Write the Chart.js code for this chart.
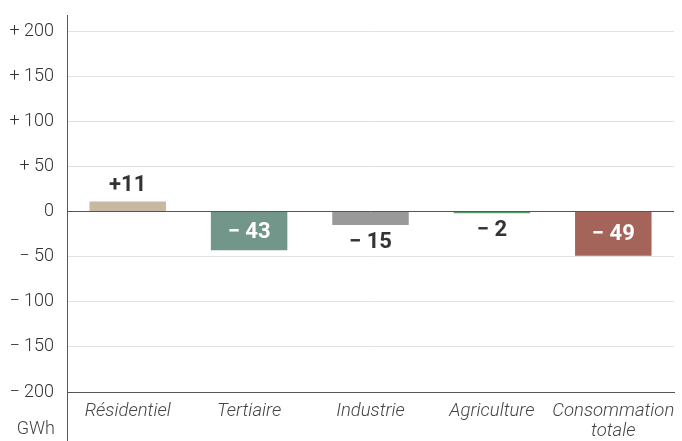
<!DOCTYPE html>
<html>
<head>
<meta charset="utf-8">
<script src="https://cdn.jsdelivr.net/npm/chart.js@4.4.1/dist/chart.umd.min.js"></script>
<style>
  html, body { margin: 0; padding: 0; background: #fff; }
  #wrap { width: 682px; height: 441px; position: relative; }
</style>
</head>
<body>
<div id="wrap"><canvas id="consoChart"></canvas></div>
<script>
// Variation de consommation par secteur (GWh)
const secteurs = ['Résidentiel', 'Tertiaire', 'Industrie', 'Agriculture', ['Consommation', 'totale']];
const variations = [11, -43, -15, -2, -49];
const couleurs = ['#c8b8a2', '#73968a', '#999999', '#5f9c6a', '#a5645a'];
const graduations = [-200, -150, -100, -50, 0, 50, 100, 150, 200];
const unite = 'GWh';

const FONT = "'Roboto', 'Liberation Sans Narrow', sans-serif";

function formatSigne(v) {
    if (v > 0) return '+ ' + v;
    if (v < 0) return '\u2212 ' + Math.abs(v);
    return '0';
}

// Axe vertical prolongé + unité + étiquettes de valeurs
const decorPlugin = {
    id: 'decor',
    afterDraw(chart) {
        const c = chart.ctx;
        const area = chart.chartArea;
        c.save();
        c.strokeStyle = '#555';
        c.lineWidth = 1;
        c.beginPath();
        c.moveTo(area.left + 0.5, 15);
        c.lineTo(area.left + 0.5, chart.height);
        c.stroke();

        c.fillStyle = '#444';
        c.font = '300 18px ' + FONT;
        c.textAlign = 'right';
        c.textBaseline = 'middle';
        c.fillText(unite, 55, 429);

        const meta = chart.getDatasetMeta(0);
        c.font = 'bold 22px ' + FONT;
        c.textAlign = 'center';
        meta.data.forEach((bar, i) => {
            const v = variations[i];
            const txt = v > 0 ? '+' + v : '\u2212 ' + Math.abs(v);
            let y;
            if (v > 0) {
                c.fillStyle = '#333';
                y = bar.y - 16;
            } else if (Math.abs(v) >= 30) {
                c.fillStyle = '#fff';
                y = (bar.y + bar.base) / 2 + 1;
            } else {
                c.fillStyle = '#333';
                y = bar.y + 17;
            }
            c.fillText(txt, bar.x, y);
        });
        c.restore();
    }
};

new Chart(document.getElementById('consoChart'), {
    type: 'bar',
    data: {
        labels: secteurs,
        datasets: [{
            data: variations,
            backgroundColor: couleurs,
            borderWidth: 0,
            barPercentage: 0.63,
            categoryPercentage: 1
        }]
    },
    options: {
        responsive: true,
        maintainAspectRatio: false,
        animation: false,
        layout: { padding: { top: 31, right: 8, left: 0, bottom: 0 } },
        plugins: {
            legend: { display: false },
            tooltip: { enabled: false }
        },
        scales: {
            x: {
                afterFit(scale) {
                    scale.height = 49;
                },
                grid: { display: false },
                border: { display: true, color: '#555', width: 1 },
                ticks: {
                    color: '#444',
                    padding: 2,
                    font: { family: FONT, size: 18.5, style: 'italic', weight: '300', lineHeight: 1.05 },
                    maxRotation: 0,
                    autoSkip: false
                }
            },
            y: {
                min: -200,
                max: 200,
                afterBuildTicks(scale) {
                    scale.ticks = graduations.map(v => ({ value: v }));
                },
                afterFit(scale) {
                    scale.width = 67;
                },
                border: { display: false },
                grid: {
                    drawTicks: false,
                    color: ctx => (ctx.tick && (ctx.tick.value === 0 || ctx.tick.value === -200)) ? '#555' : '#e2e2e2',
                    lineWidth: 1
                },
                ticks: {
                    color: '#333',
                    padding: 13,
                    font: { family: FONT, size: 18, weight: '300' },
                    callback: v => formatSigne(v)
                }
            }
        }
    },
    plugins: [decorPlugin]
});
</script>
</body>
</html>
